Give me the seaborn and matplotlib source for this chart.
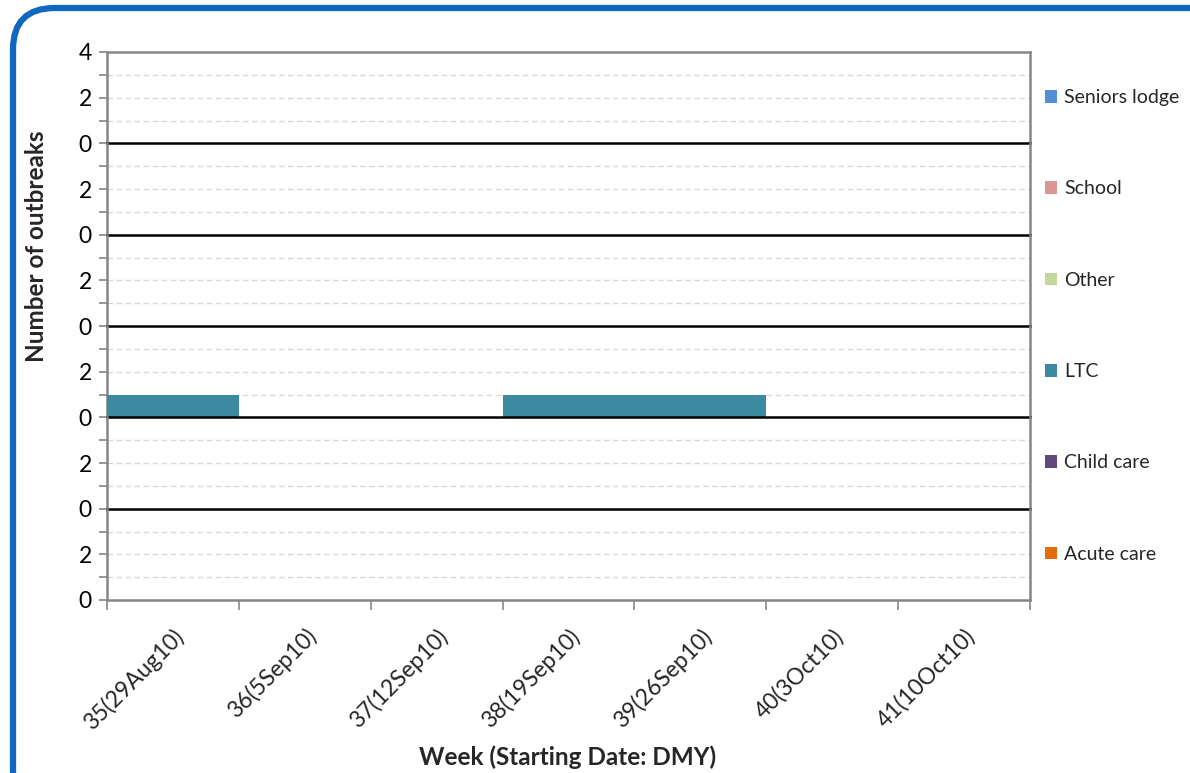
import matplotlib
matplotlib.use("Agg")
import matplotlib.pyplot as plt
import seaborn as sns
import pandas as pd
from matplotlib.patches import Patch, FancyBboxPatch
from matplotlib.transforms import ScaledTranslation

sns.set_theme(style="white")
plt.rcParams['font.family'] = ['Lato', 'DejaVu Sans']

weeks = ["35(29Aug10)", "36(5Sep10)", "37(12Sep10)", "38(19Sep10)",
         "39(26Sep10)", "40(3Oct10)", "41(10Oct10)"]
settings = ["Seniors lodge", "School", "Other", "LTC", "Child care", "Acute care"]
seniors_lodge = [0, 0, 0, 0, 0, 0, 0]
school = [0, 0, 0, 0, 0, 0, 0]
other = [0, 0, 0, 0, 0, 0, 0]
ltc = [1, 0, 0, 1, 1, 0, 0]
child_care = [0, 0, 0, 0, 0, 0, 0]
acute_care = [0, 0, 0, 0, 0, 0, 0]
series = [seniors_lodge, school, other, ltc, child_care, acute_care]
colors = ["#558ED5", "#D99694", "#C3D69B", "#3B8AA0", "#604A7B", "#E46C0A"]

W, H = 1190, 773
fig = plt.figure(figsize=(W / 100, H / 100), dpi=100)

left, right, top, bottom = 107 / W, 1030 / W, 1 - 52 / H, 1 - 600 / H
gs = fig.add_gridspec(6, 1, left=left, right=right, top=top, bottom=bottom, hspace=0)

gray = "#868686"
for i, (name, vals, col) in enumerate(zip(settings, series, colors)):
    ax = fig.add_subplot(gs[i, 0])
    ax.patch.set_facecolor("none")
    df = pd.DataFrame({"week": weeks, "n": vals})
    sns.barplot(data=df, x="week", y="n", order=weeks, color=col, width=1.0,
                saturation=1, ax=ax, zorder=3, linewidth=0)
    ax.set_xlim(-0.5, len(weeks) - 0.5)
    ax.set_ylim(0, 4)
    for g in (1, 2, 3):
        ax.axhline(g, color="#D9D9D9", linestyle=(0, (4, 2.5)), linewidth=1.0, zorder=1)
    if i == 0:
        ax.set_yticks([0, 1, 2, 3, 4])
        ax.set_yticklabels(["0", "", "2", "", "4"])
    else:
        ax.set_yticks([0, 1, 2, 3])
        ax.set_yticklabels(["0", "", "2", ""])
    ax.tick_params(axis="y", direction="out", length=6, width=1.2, color=gray,
                   labelsize=16.5, pad=5, left=True, labelcolor="black")
    ax.set_ylabel("")
    ax.set_xlabel("")
    for s in ("left", "right"):
        ax.spines[s].set_color(gray)
        ax.spines[s].set_linewidth(1.8)
    ax.spines["top"].set_visible(i == 0)
    ax.spines["top"].set_color(gray)
    ax.spines["top"].set_linewidth(1.8)
    if i < 5:
        ax.spines["bottom"].set_color("black")
        ax.spines["bottom"].set_linewidth(1.8)
        ax.spines["bottom"].set_zorder(4)
        ax.set_xticks([])
    else:
        ax.spines["bottom"].set_color(gray)
        ax.spines["bottom"].set_linewidth(1.8)
        ax.set_xticks([x - 0.5 for x in range(len(weeks) + 1)])
        ax.set_xticklabels([])
        ax.set_xticks(range(len(weeks)), minor=True)
        ax.set_xticklabels(weeks, minor=True, rotation=45, ha="right",
                           va="top", rotation_mode="anchor", fontsize=16.5)
        shift = ScaledTranslation(-6 / 100, 0, fig.dpi_scale_trans)
        for lab in ax.get_xticklabels(minor=True):
            lab.set_transform(lab.get_transform() + shift)
        ax.tick_params(axis="x", which="major", direction="out", length=7,
                       width=1.2, color=gray, bottom=True)
        ax.tick_params(axis="x", which="minor", length=0, pad=18, bottom=True)
    ax.legend(handles=[Patch(facecolor=col, edgecolor="none", label=name)],
              loc="center left", bbox_to_anchor=(1.0, 0.5), frameon=False,
              handlelength=0.65, handleheight=0.65, handletextpad=0.35,
              fontsize=14, borderaxespad=0.35)

fig.text(37 / W, 1 - 246 / H, "Number of outbreaks", rotation=90, ha="center",
         va="center", fontsize=17.5, fontweight="bold")
fig.text(568 / W, 1 - 757 / H, "Week (Starting Date: DMY)", ha="center",
         va="center", fontsize=17.5, fontweight="bold")

border = FancyBboxPatch((13 / W, -0.05), 1.2, 1 - 8 / H + 0.05,
                        boxstyle="round,pad=0,rounding_size=0.035",
                        transform=fig.transFigure, facecolor="none",
                        edgecolor="#0F67C0", linewidth=4.5, zorder=10,
                        mutation_aspect=W / H)
fig.patches.append(border)

fig.savefig("out.png", dpi=100)
